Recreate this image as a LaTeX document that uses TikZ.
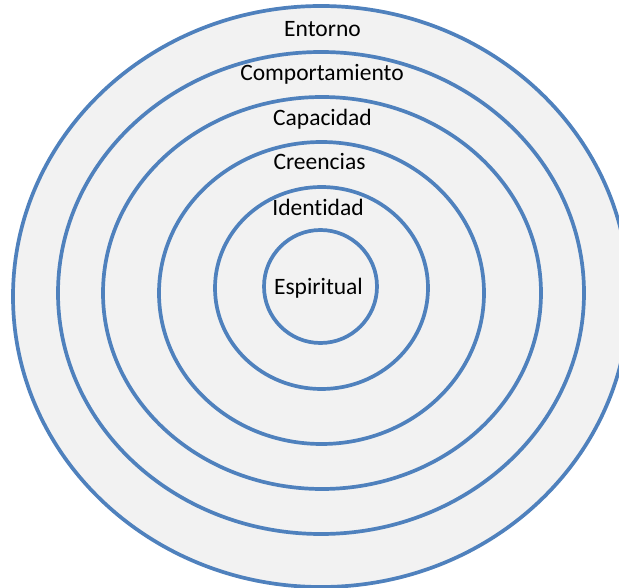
\documentclass[tikz,border=0pt]{standalone}
\usepackage{fontspec}
\setmainfont{Carlito}[Ligatures=NoCommon]
\definecolor{ringblue}{HTML}{4F81BD}
\definecolor{ringfill}{HTML}{F2F2F2}
\begin{document}
\begin{tikzpicture}[x=1pt,y=-1pt,
  ring/.style={draw=ringblue,line width=3.7pt,fill=ringfill},
  lbl/.style={anchor=base,inner sep=0pt,font=\fontsize{23.5}{28}\selectfont,text=black}]
\useasboundingbox (0,0) rectangle (619,588);
\clip (0,0) rectangle (619,588);
\fill[white] (0,0) rectangle (619,588);
\draw[ring] (321,296.5) ellipse [x radius=308,y radius=290.5];
\draw[ring] (321,293) ellipse [x radius=263,y radius=241];
\draw[ring] (322,293) ellipse [x radius=219,y radius=196];
\draw[ring] (321.5,293) ellipse [x radius=162.5,y radius=151];
\draw[ring] (321.5,288) ellipse [x radius=106.5,y radius=101];
\draw[ring] (320.5,286.5) ellipse [x radius=56.5,y radius=56.5];
\node[lbl] (entorno) at (322.5,37) {Entorno};
\node[lbl] (comport) at (322,81) {Comportamiento};
\node[lbl] (capac) at (322.5,126) {Capacidad};
\node[lbl] (creen) at (319.5,170) {Creencias};
\node[lbl] (ident) at (318,216) {Identidad};
\node[lbl] (espir) at (318.5,295) {Espiritual};
\end{tikzpicture}
\end{document}
